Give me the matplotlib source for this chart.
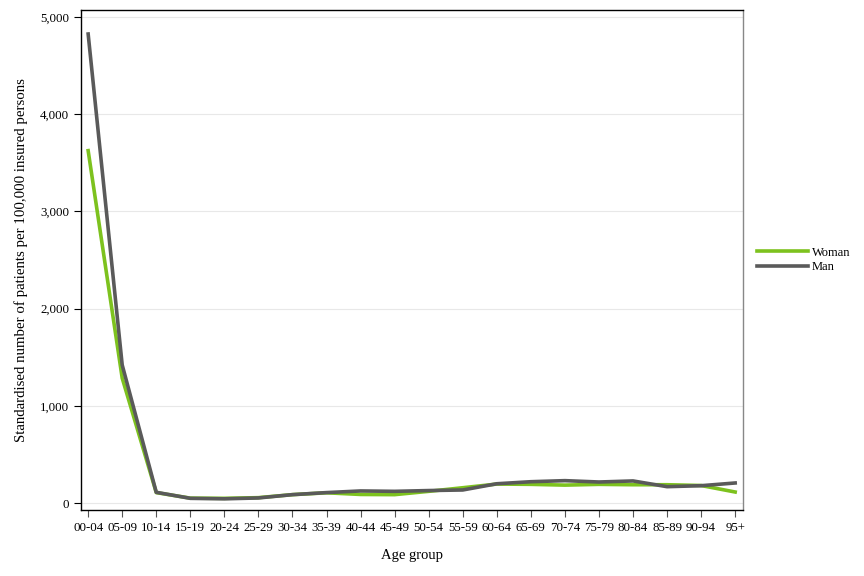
import matplotlib
matplotlib.use("Agg")
import matplotlib.pyplot as plt
from matplotlib.ticker import FuncFormatter
import numpy as np

age_groups = ["00-04", "05-09", "10-14", "15-19", "20-24", "25-29", "30-34",
              "35-39", "40-44", "45-49", "50-54", "55-59", "60-64", "65-69",
              "70-74", "75-79", "80-84", "85-89", "90-94", "95+"]
woman = [3625, 1285, 107, 50, 48, 55, 86, 105, 88, 86, 120, 157, 195, 192,
         184, 192, 188, 188, 180, 113]
man = [4825, 1420, 110, 48, 43, 52, 86, 107, 124, 120, 128, 134, 198, 219,
       230, 216, 227, 168, 178, 206]

plt.rcParams['font.family'] = ['Liberation Serif', 'DejaVu Serif']

fig = plt.figure(figsize=(8.64, 5.76), dpi=100)
ax = fig.add_axes([81 / 864, 66 / 576, 662 / 864, 500 / 576])

x = np.arange(len(age_groups))
ax.plot(x, woman, color='#7dc21e', lw=2.6, label='Woman', solid_joinstyle='round')
ax.plot(x, man, color='#5a5a5a', lw=2.6, label='Man', solid_joinstyle='round')

ax.set_xlim(-0.21, 19.23)
ax.set_ylim(-72, 5072)
ax.set_xticks(x)
ax.set_xticklabels(age_groups, fontsize=9.3)
ax.set_yticks([0, 1000, 2000, 3000, 4000, 5000])
ax.yaxis.set_major_formatter(FuncFormatter(lambda v, p: f"{int(v):,}"))
ax.tick_params(axis='y', labelsize=9.3, length=5, width=0.8)
ax.tick_params(axis='x', length=5, width=0.8, colors='#555555', labelcolor='black')
ax.grid(axis='y', color='#e8e8e8', lw=0.8)
ax.set_axisbelow(True)

for s in ['left', 'bottom', 'top']:
    ax.spines[s].set_color('black')
    ax.spines[s].set_linewidth(1)
ax.spines['right'].set_color('#888888')
ax.spines['right'].set_linewidth(1)

ax.set_xlabel('Age group', fontsize=10.5, labelpad=11)
ax.set_ylabel('Standardised number of patients per 100,000 insured persons', fontsize=10.7, labelpad=9)

ax.legend(loc='center left', bbox_to_anchor=(1.004, 0.5), frameon=False,
          fontsize=9, handlelength=4.1, handletextpad=0.3, labelspacing=0.2)

fig.savefig('out.png', dpi=100)
